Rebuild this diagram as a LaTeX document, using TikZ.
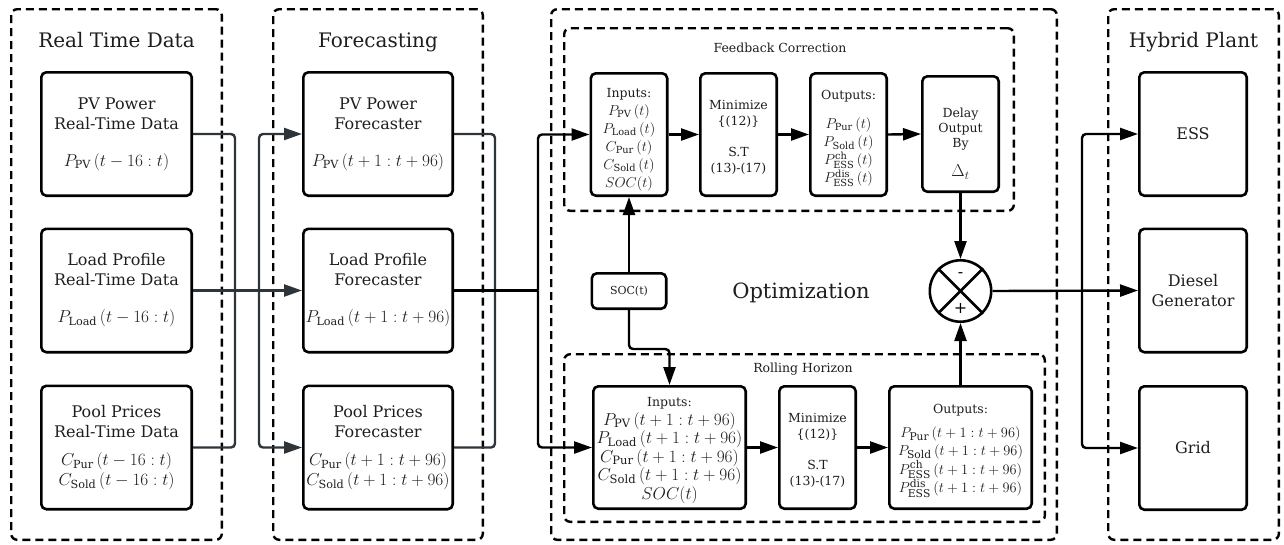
\documentclass[tikz,border=0pt]{standalone}
\usepackage{fontspec}
\setmainfont{DejaVu Serif}
\usetikzlibrary{calc}
\usetikzlibrary{arrows.meta}

\definecolor{wiregray}{RGB}{45,52,58}
\definecolor{inkgray}{RGB}{30,30,30}

\newcommand{\tightlines}{\lineskiplimit=-20pt\relax}
\newcommand{\lbl}[1]{{\fontsize{12.5}{14}\selectfont #1}}
\newcommand{\sink}[1]{\rule{0pt}{#1}}

\tikzset{
  grp/.style={draw, dash pattern=on 8pt off 5pt, line width=2.4pt, rounded corners=6pt, inner sep=0pt},
  blk/.style={draw, line width=2.6pt, rounded corners=5pt, align=center, inner sep=0pt, text=inkgray},
  bigtext/.style={font=\fontsize{16}{20}\selectfont},
  midtext/.style={font=\fontsize{14}{18}\selectfont\tightlines},
  smalltext/.style={font=\fontsize{12.5}{16}\selectfont},
  grptitle/.style={anchor=base, text=inkgray, font=\fontsize{20}{22}\selectfont},
  subtitle/.style={anchor=base, text=inkgray, font=\fontsize{12.5}{14}\selectfont},
  wire/.style={line width=2.4pt, rounded corners=4pt},
  feed/.style={wire, -{Triangle[length=18pt,width=12pt]}},
}

\begin{document}
\begin{tikzpicture}[x=1pt,y=-1pt]
\useasboundingbox (0,0) rectangle (1284,544);

% outer groups
\node[grp, minimum width=210.6, minimum height=530.6] (rtgrp) at (116.5,274.5) {};
\node[grp, minimum width=209.6, minimum height=530.6] (fcgrp) at (378,274.5) {};
\node[grp, minimum width=505.6, minimum height=530.6] (optgrp) at (804,274.5) {};
\node[grp, minimum width=170.6, minimum height=530.6] (hpgrp) at (1193.5,274.5) {};
\node[grptitle] (rttitle) at (116.5,47) {Real Time Data};
\node[grptitle] (fctitle) at (378,47) {Forecasting};
\node[grptitle] (hptitle) at (1193.5,47) {Hybrid Plant};
\node[grptitle, font=\fontsize{21}{22}\selectfont] (opttitle) at (801,298) {Optimization};

% real time data
\node[blk, bigtext, minimum width=150.4, minimum height=123.4] (pvrt) at (116.5,134)
  {PV Power\\Real-Time Data\\[17pt]$P_{\mathrm{PV}}\,(t-16:t)$};
\node[blk, bigtext, minimum width=150.4, minimum height=123.4] (ldrt) at (116.5,290.5)
  {Load Profile\\Real-Time Data\\[17pt]$P_{\mathrm{Load}}\,(t-16:t)$};
\node[blk, bigtext, minimum width=150.4, minimum height=123.4] (pprt) at (116.5,447.5)
  {Pool Prices\\Real-Time Data\\[8pt]$C_{\mathrm{Pur}}\,(t-16:t)$\\$C_{\mathrm{Sold}}\,(t-16:t)$};

% forecasters
\node[blk, bigtext, minimum width=149.4, minimum height=123.4] (pvfc) at (378,134)
  {PV Power\\Forecaster\\[17pt]$P_{\mathrm{PV}}\,(t+1:t+96)$};
\node[blk, bigtext, minimum width=149.4, minimum height=123.4] (ldfc) at (378,290.5)
  {Load Profile\\Forecaster\\[17pt]$P_{\mathrm{Load}}\,(t+1:t+96)$};
\node[blk, bigtext, minimum width=149.4, minimum height=123.4] (ppfc) at (378,447.5)
  {Pool Prices\\Forecaster\\[8pt]$C_{\mathrm{Pur}}\,(t+1:t+96)$\\$C_{\mathrm{Sold}}\,(t+1:t+96)$};

% feedback correction
\node[grp, minimum width=449.6, minimum height=182.6] (fbgrp) at (789,119.5) {};
\node[subtitle] (fbtitle) at (780,52) {Feedback Correction};
\node[blk, midtext, minimum width=76.4, minimum height=122.4] (fcin) at (629,134.5)
  {\sink{19.5pt}\lbl{Inputs:}\\$P_{\mathrm{PV}}\,(t)$\\$P_{\mathrm{Load}}\,(t)$\\$C_{\mathrm{Pur}}\,(t)$\\$C_{\mathrm{Sold}}\,(t)$\\$SOC(t)$};
\node[blk, smalltext, minimum width=76.4, minimum height=122.4] (fcmin) at (738.5,134.5)
  {\sink{14.5pt}Minimize\\\{(12)\}\\[15pt]S.T\\(13)-(17)};
\node[blk, midtext, minimum width=76.4, minimum height=122.4] (fcout) at (848.5,134.5)
  {\sink{17.5pt}\lbl{Outputs:}\\[11pt]$P_{\mathrm{Pur}}\,(t)$\\$P_{\mathrm{Sold}}\,(t)$\\$P^{\mathrm{ch}}_{\mathrm{ESS}}\,(t)$\\$P^{\mathrm{dis}}_{\mathrm{ESS}}\,(t)$};
\node[blk, font=\fontsize{12.5}{15}\selectfont, minimum width=76.4, minimum height=115.4] (fcdel) at (960.5,134)
  {\sink{29pt}Delay\\Output\\By\\[14pt]{\fontsize{18}{15}\selectfont$\Delta_t$}};

% soc and sum
\node[blk, font=\fontsize{11}{12}\selectfont, minimum width=74.4, minimum height=35.4] (soc) at (629,291) {SOC(t)};
\node[draw, circle, line width=2.6pt, minimum size=61.4, inner sep=0pt] (sum) at (960.5,291) {};
\draw[line width=2.6pt] (sum.north east) -- (sum.south west);
\draw[line width=2.6pt] (sum.north west) -- (sum.south east);
\node[font=\fontsize{16}{16}\selectfont] (minus) at (960.5,275) {-};
\node[font=\fontsize{16}{16}\selectfont] (plus) at (960.5,308) {+};

% rolling horizon
\node[grp, minimum width=480.6, minimum height=167.6] (rhgrp) at (804.5,438) {};
\node[subtitle] (rhtitle) at (803,372) {Rolling Horizon};
\node[blk, font=\fontsize{16.5}{18.5}\selectfont\tightlines, minimum width=152.4, minimum height=122.4] (rhin) at (669.5,447.5)
  {\sink{15.5pt}\lbl{Inputs:}\\$P_{\mathrm{PV}}\,(t+1:t+96)$\\$P_{\mathrm{Load}}\,(t+1:t+96)$\\$C_{\mathrm{Pur}}\,(t+1:t+96)$\\$C_{\mathrm{Sold}}\,(t+1:t+96)$\\$SOC(t)$};
\node[blk, smalltext, minimum width=76.4, minimum height=122.4] (rhmin) at (817.5,447.5)
  {\sink{14.5pt}Minimize\\\{(12)\}\\[15pt]S.T\\(13)-(17)};
\node[blk, font=\fontsize{15.3}{18.5}\selectfont\tightlines, minimum width=142.4, minimum height=122.4] (rhout) at (960.5,447.5)
  {\sink{15.5pt}\lbl{Outputs:}\\[5.5pt]$P_{\mathrm{Pur}}\,(t+1:t+96)$\\$P_{\mathrm{Sold}}\,(t+1:t+96)$\\$P^{\mathrm{ch}}_{\mathrm{ESS}}\,(t+1:t+96)$\\$P^{\mathrm{dis}}_{\mathrm{ESS}}\,(t+1:t+96)$};

% hybrid plant
\node[blk, bigtext, minimum width=107.4, minimum height=123.4] (ess) at (1193,134) {ESS};
\node[blk, bigtext, minimum width=107.4, minimum height=123.4] (dsl) at (1193,290.5) {Diesel\\Generator};
\node[blk, bigtext, minimum width=107.4, minimum height=123.4] (grid) at (1193,448) {Grid};

% wires, left part
\coordinate (lbus) at (259,290.5);
\coordinate (rbus) at (538,290.5);
\draw[wire, wiregray] (pvrt.east) -- ++(42,0) |- (pprt.east);
\draw[feed, wiregray] (ldrt.east) -- (ldfc.west);
\draw[feed, wiregray] (lbus) |- (pvfc.west);
\draw[feed, wiregray] (lbus) |- (ppfc.west);
\draw[wire, wiregray] (pvfc.east) -- ++(41,0) |- (ppfc.east);
\draw[wire] (ldfc.east) -- (rbus);
\draw[feed] (rbus) |- (fcin.west);
\draw[feed] (rbus) |- (rhin.west);

% wires, optimization
\coordinate (socbend) at (669.5,349);
\draw[feed] (fcin.east) -- (fcmin.west);
\draw[feed] (fcmin.east) -- (fcout.west);
\draw[feed] (fcout.east) -- (fcdel.west);
\draw[feed] (rhin.east) -- (rhmin.west);
\draw[feed] (rhmin.east) -- (rhout.west);
\draw[feed] (soc.north) -- (fcin.south);
\draw[feed] (soc.south) |- (socbend) -- (rhin.north);
\draw[feed] (fcdel.south) -- (sum.north);
\draw[feed] (rhout.north) -- (sum.south);

% wires, plant
\coordinate (pbus) at (1082,290.5);
\draw[feed] (sum.east) -- (dsl.west);
\draw[feed] (pbus) |- (ess.west);
\draw[feed] (pbus) |- (grid.west);
\end{tikzpicture}
\end{document}
